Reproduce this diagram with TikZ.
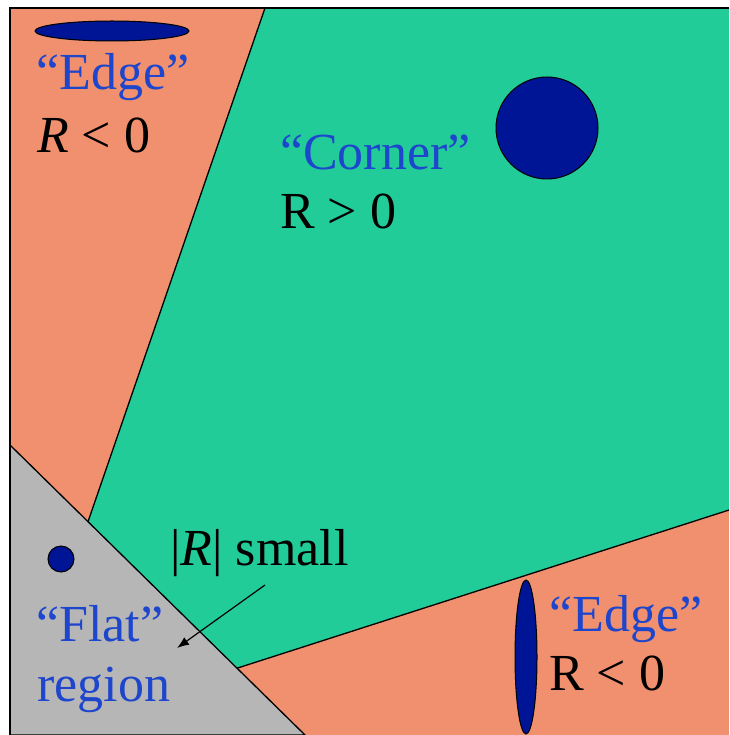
\documentclass[tikz,border=0pt]{standalone}
\usepackage{fontspec}
\setmainfont{Liberation Serif}
\usetikzlibrary{arrows.meta}
\definecolor{orangebg}{RGB}{240,144,110}
\definecolor{greenbg}{RGB}{34,204,153}
\definecolor{greybg}{RGB}{182,182,182}
\definecolor{blob}{RGB}{0,20,150}
\definecolor{bluetxt}{RGB}{30,70,205}
\tikzset{
  region/.style={draw=black, line width=1.3pt, line join=miter},
  blobshape/.style={draw=black, fill=blob, line width=1pt},
  bluelabel/.style={text=bluetxt, anchor=base west, inner sep=0pt, font=\fontsize{52}{52}\selectfont},
  blacklabel/.style={text=black, anchor=base west, inner sep=0pt, font=\fontsize{52}{52}\selectfont},
}
\begin{document}
\begin{tikzpicture}[x=1pt,y=-1pt]
\useasboundingbox (0,0) rectangle (729,735);
\fill[white] (0,0) rectangle (729,735);
% background orange
\fill[orangebg] (10,8) rectangle (729,735);
% green corner region
\fill[greenbg] (265,8) -- (88,521.7) -- (237,668.2) -- (729,510) -- (729,8) -- cycle;
\draw[region] (265,8) -- (88,521.7);
\draw[region] (237,668.2) -- (729,510);
% grey flat region
\filldraw[region, fill=greybg] (10,445) -- (305,735) -- (10,735);
% frame
\draw[line width=1.4pt] (10,735) -- (10,8) -- (729,8);
% blobs
\draw[blobshape] (112,31) ellipse [x radius=77, y radius=10];
\draw[blobshape] (547,128) circle [radius=51];
\draw[blobshape] (61,559) circle [radius=13];
\draw[blobshape] (526,657) ellipse [x radius=11, y radius=77];
% labels
\node[bluelabel] (edge1) at (36,90) {“Edge”};
\node[blacklabel] (r1) at (37,153) {\textit{R} < 0};
\node[bluelabel] (corner) at (280,170) {“Corner”};
\node[blacklabel] (r2) at (280,228) {R > 0};
\node[blacklabel] (small) at (170,565) {|\textit{R}| small};
\node[bluelabel] (flat) at (36,641) {“Flat”};
\node[bluelabel] (region) at (37,701) {region};
\node[bluelabel] (edge2) at (549,631) {“Edge”};
\node[blacklabel] (r3) at (549,690) {R < 0};
% arrow
\coordinate (arrstart) at (265,585);
\coordinate (arrtip) at (177,648);
\draw[line width=1.2pt, -{Latex[length=12pt,width=9pt]}] (arrstart) -- (arrtip);
\end{tikzpicture}
\end{document}
